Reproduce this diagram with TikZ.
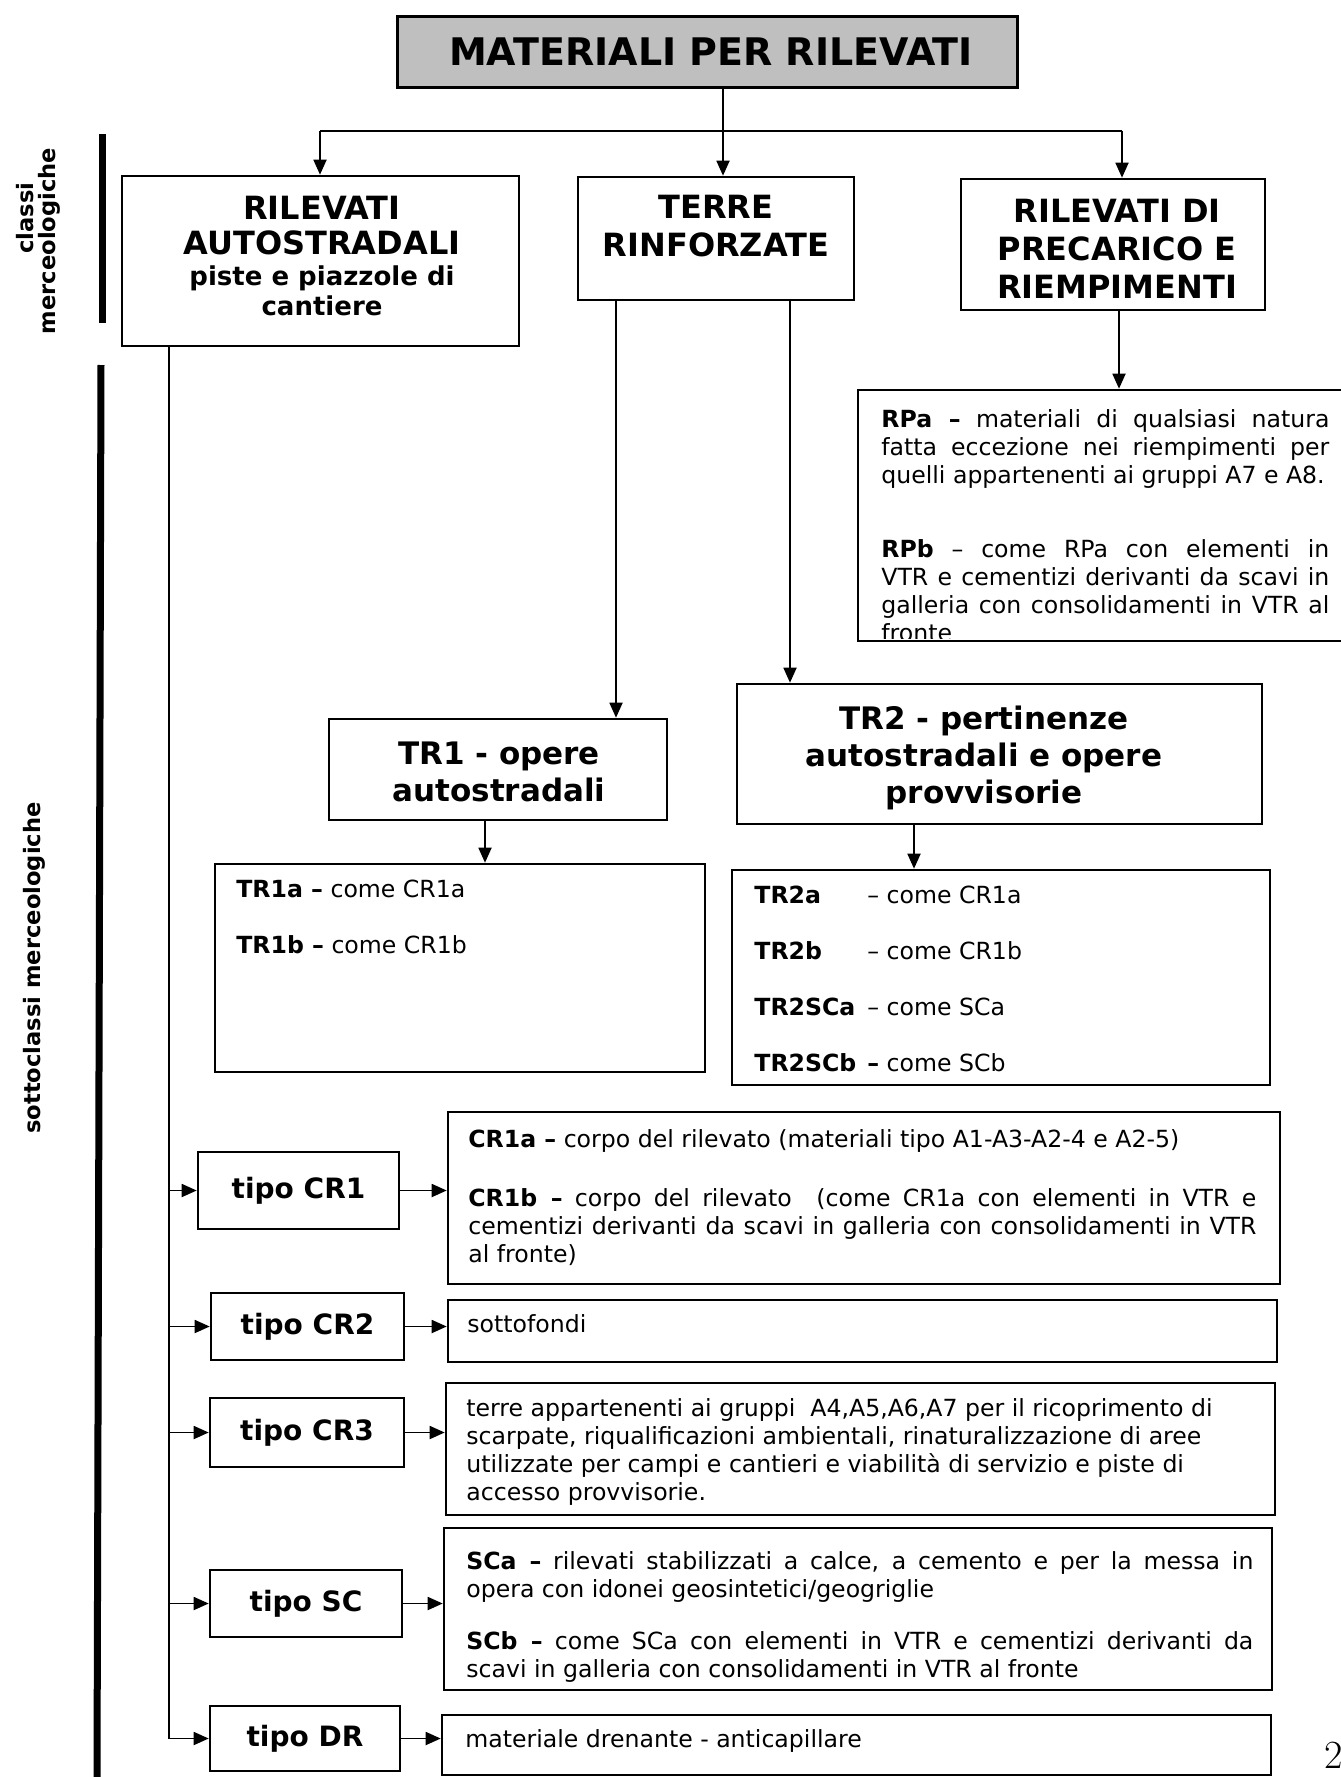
\documentclass[tikz,border=0pt]{standalone}
\usepackage{fontspec}
\setsansfont{DejaVu Sans}
\renewcommand{\familydefault}{\sfdefault}
\usetikzlibrary{arrows.meta,fit}
\setlength{\parindent}{0pt}
\tolerance=10000
\hbadness=10000
\newcommand{\bodyfnt}{\fontsize{11.8pt}{14pt}\selectfont}
\newcommand{\lab}[1]{\makebox[56.5pt][l]{\textbf{#1}}}

\begin{document}
\begin{tikzpicture}[x=0.5pt,y=-0.5pt,font=\sffamily,
  box/.style={draw,line width=1.3pt,inner sep=0pt},
  conn/.style={line width=0.9pt},
  arr/.style={conn,-{Triangle[length=7.5pt,width=6.5pt]}},
  headA/.style={font=\bfseries\fontsize{16pt}{17.5pt}\selectfont,align=center,inner sep=0pt},
  headB/.style={font=\bfseries\fontsize{16pt}{19pt}\selectfont,align=center,inner sep=0pt},
  subhead/.style={font=\bfseries\fontsize{13pt}{15pt}\selectfont,align=center,inner sep=0pt},
  trhead/.style={font=\bfseries\fontsize{15.5pt}{18.7pt}\selectfont,align=center,inner sep=0pt},
  tipotxt/.style={font=\bfseries\fontsize{14pt}{16pt}\selectfont,inner sep=0pt},
  desctext/.style={anchor=north west,inner sep=0pt,font=\bodyfnt},
  sidelbl/.style={rotate=90,font=\bfseries\fontsize{11.3pt}{12pt}\selectfont,inner sep=0pt},
  sidebar/.style={line width=3.5pt}
]
\useasboundingbox (0,0) rectangle (1340,1777);

% ---- title ----
\node[box,line width=1.5pt,fill=black!25,fit={(397,17) (1017,88)}] (title) {};
\node[inner sep=0pt,font=\bfseries\fontsize{19pt}{20pt}\selectfont] (titletxt) at (711,52) {MATERIALI PER RILEVATI};

% ---- side labels ----
\node[sidelbl] (cls1) at (25,218) {classi};
\node[sidelbl] (cls2) at (49,241) {merceologiche};
\node[sidelbl] (subcls) at (34,968) {sottoclassi merceologiche};
\draw[sidebar] (102,134) -- (102,323);
\draw[sidebar] (101,365) -- (97,1777);

% ---- main classes ----
\node[box,fit={(122,176) (519,346)}] (A) {};
\node[headA] (A1) at (322,226) {RILEVATI\\AUTOSTRADALI};
\node[subhead] (A2) at (322,291) {piste e piazzole di\\cantiere};

\node[box,fit={(578,177) (854,300)}] (B) {};
\node[headB] (Bt) at (716,226) {TERRE\\RINFORZATE};

\node[box,fit={(961,179) (1265,310)}] (C) {};
\node[headB] (Ct) at (1117,249) {RILEVATI DI\\PRECARICO E\\RIEMPIMENTI};

% ---- top connectors ----
\coordinate (jA) at (320,131);
\coordinate (jB) at (723,131);
\coordinate (jC) at (1122,131);
\draw[conn] (jB |- title.south) -- (jB);
\draw[conn] (jA) -- (jC);
\draw[arr] (jA) -- (jA |- A.north);
\draw[arr] (jB) -- (jB |- B.north);
\draw[arr] (jC) -- (jC |- C.north);

% ---- RP box ----
\node[box,fit={(858,390) (1346,641)}] (RP) {};
\begin{scope}
\clip (860,392) rectangle (1340,638);
\node[desctext,text width=224pt,align=justify] (RPt) at (881,409) {\textbf{RPa –} materiali di qualsiasi natura\linebreak fatta eccezione nei riempimenti per\linebreak quelli appartenenti ai gruppi A7 e A8.\par\vspace{23pt}\textbf{RPb} – come RPa con elementi in\linebreak VTR e cementizi derivanti da scavi in\linebreak galleria con consolidamenti in VTR al\linebreak fronte};
\end{scope}
\coordinate (xc) at (1119,0);
\draw[arr] (C.south -| xc) -- (xc |- RP.north);

% ---- TR boxes ----
\node[box,fit={(329,719) (667,820)}] (TR1) {};
\node[trhead] (TR1t) at (499,772) {TR1 - opere\\autostradali};
\node[box,fit={(737,684) (1262,824)}] (TR2) {};
\node[trhead] (TR2t) at (984,758) {TR2 - pertinenze\\autostradali e opere\\provvisorie};

\coordinate (xt1) at (616,0);
\coordinate (xt2) at (790,0);
\draw[arr] (B.south -| xt1) -- (xt1 |- TR1.north);
\draw[arr] (B.south -| xt2) -- (xt2 |- TR2.north);

\node[box,fit={(215,864) (705,1072)}] (T1) {};
\node[desctext,align=left] (T1t) at (236,880) {\textbf{TR1a –} come CR1a\\[14pt]\textbf{TR1b –} come CR1b};
\node[box,fit={(732,870) (1270,1085)}] (T2) {};
\node[desctext,align=left] (T2t) at (754,886) {\lab{TR2a}– come CR1a\\[14pt]\lab{TR2b}– come CR1b\\[14pt]\lab{TR2SCa}– come SCa\\[14pt]\lab{TR2SCb}\textbf{–} come SCb};

\coordinate (xs1) at (485,0);
\coordinate (xs2) at (914,0);
\draw[arr] (TR1.south -| xs1) -- (xs1 |- T1.north);
\draw[arr] (TR2.south -| xs2) -- (xs2 |- T2.north);

% ---- subclasses of RILEVATI AUTOSTRADALI ----
\node[box,fit={(198,1152) (399,1229)}] (k1) {};
\node[box,fit={(211,1293) (404,1360)}] (k2) {};
\node[box,fit={(210,1398) (404,1467)}] (k3) {};
\node[box,fit={(210,1570) (402,1637)}] (k4) {};
\node[box,fit={(210,1706) (400,1771)}] (k5) {};
\node[tipotxt] (k1t) at (k1.center) {tipo CR1};
\node[tipotxt] (k2t) at (k2.center) {tipo CR2};
\node[tipotxt] (k3t) at (k3.center) {tipo CR3};
\node[tipotxt] (k4t) at (k4.center) {tipo SC};
\node[tipotxt] (k5t) at (k5.center) {tipo DR};

\node[box,fit={(448,1112) (1280,1284)}] (d1) {};
\node[box,fit={(448,1300) (1277,1362)}] (d2) {};
\node[box,fit={(446,1383) (1275,1515)}] (d3) {};
\node[box,fit={(444,1528) (1272,1690)}] (d4) {};
\node[box,fit={(442,1715) (1271,1775)}] (d5) {};

\node[desctext,text width=394pt,align=justify] (d1t) at (468,1129) {\textbf{CR1a –} corpo del rilevato (materiali tipo A1-A3-A2-4 e A2-5)\par\vspace{15.5pt}\textbf{CR1b –} corpo del rilevato\ \ (come CR1a con elementi in VTR e\linebreak cementizi derivanti da scavi in galleria con consolidamenti in VTR\linebreak al fronte)};
\node[desctext] (d2t) at (467,1314) {sottofondi};
\node[desctext,align=left] (d3t) at (466,1398) {terre appartenenti ai gruppi\ \ A4,A5,A6,A7 per il ricoprimento di\\scarpate, riqualificazioni ambientali, rinaturalizzazione di aree\\utilizzate per campi e cantieri e viabilità di servizio e piste di\\accesso provvisorie.};
\node[desctext,text width=393.5pt,align=justify] (d4t) at (466,1551) {\textbf{SCa –} rilevati stabilizzati a calce, a cemento e per la messa in\linebreak opera con idonei geosintetici/geogriglie\par\vspace{12pt}\textbf{SCb –} come SCa con elementi in VTR e cementizi derivanti da\linebreak scavi in galleria con consolidamenti in VTR al fronte};
\node[desctext] (d5t) at (465,1729) {materiale drenante - anticapillare};

% ---- spine and branches ----
\coordinate (sp) at (169,0);
\draw[conn] (A.south -| sp) -- (sp |- k5.west);
\foreach \k/\d in {k1/d1,k2/d2,k3/d3,k4/d4,k5/d5}{
  \draw[arr] (sp |- \k.west) -- (\k.west);
  \draw[arr] (\k.east) -- (\k.east -| \d.west);
}

% ---- page number ----
\node[anchor=base west,inner sep=0pt,font=\rmfamily\fontsize{20pt}{20pt}\selectfont] (pg) at (1324,1768) {2};
\end{tikzpicture}
\end{document}
